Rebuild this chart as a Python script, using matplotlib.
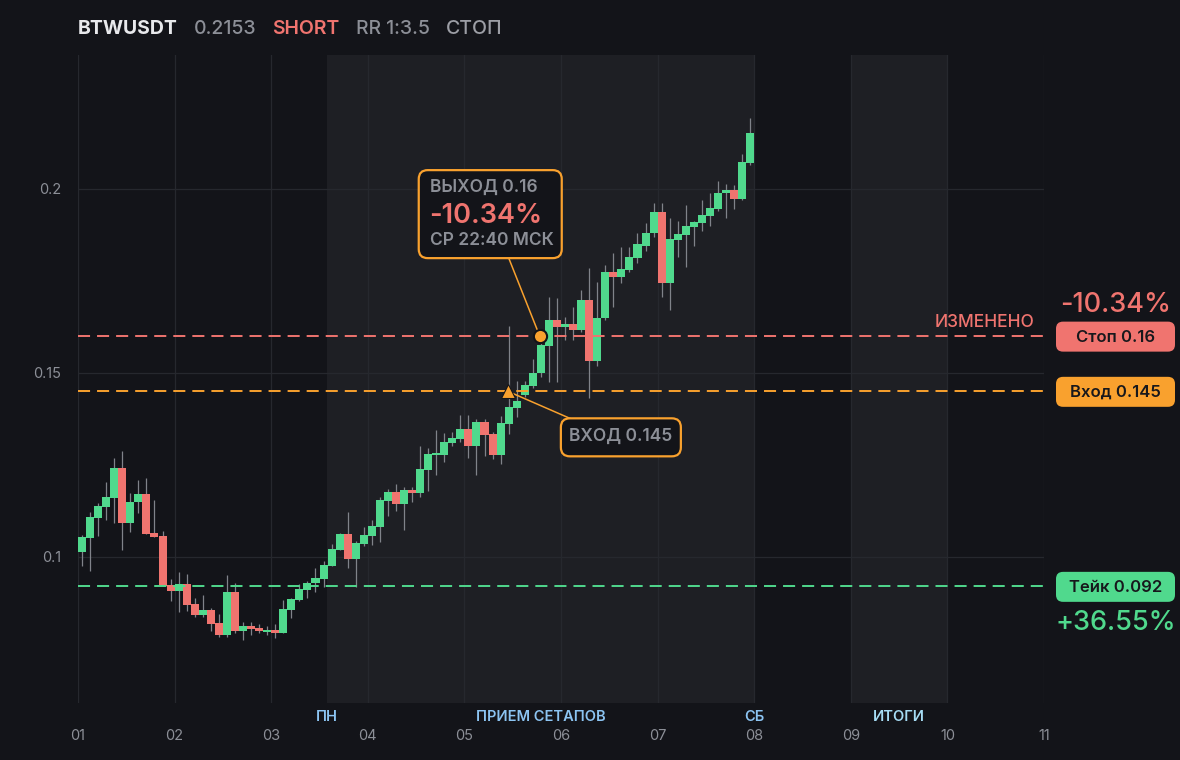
import matplotlib
matplotlib.use('Agg')
import matplotlib.pyplot as plt
import matplotlib.patches as mpatches
import matplotlib.transforms as mtransforms

plt.rcParams['font.family'] = ['Inter', 'DejaVu Sans']

# header
symbol = 'BTWUSDT'
last_price = '0.2153'
side = 'SHORT'
rr_text = 'RR 1:3.5'
status = 'СТОП'

# 2-hour candles, first one opens on day 01 00:00
opens = [0.1014, 0.1052, 0.1107, 0.1137, 0.1161, 0.1242, 0.1091, 0.1148, 0.1171, 0.1065,
         0.1057, 0.0924, 0.0908, 0.0927, 0.0872, 0.0843, 0.0856, 0.0821, 0.0789, 0.0905,
         0.0800, 0.0811, 0.0808, 0.0797, 0.0802, 0.0794, 0.0857, 0.0884, 0.0911, 0.0928,
         0.0941, 0.0976, 0.1020, 0.1063, 0.0993, 0.1035, 0.1057, 0.1082, 0.1152, 0.1177,
         0.1144, 0.1182, 0.1174, 0.1237, 0.1277, 0.1277, 0.1310, 0.1321, 0.1348, 0.1302,
         0.1367, 0.1334, 0.1277, 0.1361, 0.1405, 0.1440, 0.1465, 0.1499, 0.1574, 0.1644,
         0.1624, 0.1633, 0.1617, 0.1698, 0.1533, 0.1650, 0.1773, 0.1762, 0.1780, 0.1813,
         0.1846, 0.1879, 0.1938, 0.1745, 0.1861, 0.1875, 0.1897, 0.1908, 0.1927, 0.1946,
         0.1989, 0.1997, 0.1973, 0.2071]
highs = [0.1060, 0.1122, 0.1146, 0.1204, 0.1269, 0.1288, 0.1174, 0.1209, 0.1215, 0.1155,
         0.1071, 0.0940, 0.0959, 0.0954, 0.0889, 0.0897, 0.0861, 0.0846, 0.0951, 0.0929,
         0.0824, 0.0822, 0.0819, 0.0813, 0.0819, 0.0883, 0.0889, 0.0927, 0.0935, 0.0970,
         0.0990, 0.1035, 0.1065, 0.1122, 0.1043, 0.1082, 0.1101, 0.1163, 0.1185, 0.1198,
         0.1190, 0.1190, 0.1302, 0.1296, 0.1345, 0.1337, 0.1340, 0.1386, 0.1386, 0.1375,
         0.1375, 0.1340, 0.1383, 0.1628, 0.1478, 0.1478, 0.1537, 0.1590, 0.1707, 0.1703,
         0.1653, 0.1680, 0.1726, 0.1785, 0.1748, 0.1794, 0.1825, 0.1843, 0.1843, 0.1880,
         0.1907, 0.1961, 0.1961, 0.1920, 0.1913, 0.1957, 0.1913, 0.1970, 0.1989, 0.2022,
         0.2014, 0.2011, 0.2095, 0.2193]
lows = [0.0976, 0.0963, 0.1058, 0.1100, 0.1091, 0.1020, 0.1068, 0.1120, 0.1063, 0.1055,
        0.0922, 0.0879, 0.0851, 0.0854, 0.0838, 0.0838, 0.0800, 0.0783, 0.0783, 0.0792,
        0.0775, 0.0789, 0.0794, 0.0789, 0.0781, 0.0794, 0.0835, 0.0879, 0.0887, 0.0906,
        0.0917, 0.0974, 0.1020, 0.0971, 0.0917, 0.1030, 0.1033, 0.1041, 0.1111, 0.1125,
        0.1073, 0.1149, 0.1163, 0.1179, 0.1223, 0.1258, 0.1302, 0.1313, 0.1269, 0.1223,
        0.1275, 0.1266, 0.1253, 0.1334, 0.1380, 0.1435, 0.1460, 0.1490, 0.1476, 0.1474,
        0.1590, 0.1590, 0.1610, 0.1431, 0.1520, 0.1645, 0.1680, 0.1744, 0.1775, 0.1800,
        0.1830, 0.1870, 0.1707, 0.1671, 0.1816, 0.1789, 0.1846, 0.1887, 0.1900, 0.1940,
        0.1921, 0.1946, 0.1970, 0.2065]
closes = [0.1054, 0.1109, 0.1139, 0.1163, 0.1242, 0.1091, 0.1150, 0.1171, 0.1063, 0.1055,
          0.0922, 0.0908, 0.0927, 0.0870, 0.0843, 0.0856, 0.0819, 0.0789, 0.0905, 0.0800,
          0.0811, 0.0805, 0.0800, 0.0802, 0.0794, 0.0859, 0.0886, 0.0913, 0.0929, 0.0943,
          0.0979, 0.1022, 0.1063, 0.0993, 0.1038, 0.1060, 0.1084, 0.1155, 0.1177, 0.1144,
          0.1182, 0.1174, 0.1239, 0.1280, 0.1282, 0.1313, 0.1323, 0.1348, 0.1302, 0.1367,
          0.1332, 0.1277, 0.1364, 0.1408, 0.1424, 0.1467, 0.1499, 0.1576, 0.1644, 0.1624,
          0.1633, 0.1617, 0.1698, 0.1533, 0.1650, 0.1773, 0.1762, 0.1782, 0.1816, 0.1850,
          0.1881, 0.1938, 0.1745, 0.1863, 0.1878, 0.1900, 0.1910, 0.1929, 0.1948, 0.1989,
          0.1997, 0.1973, 0.2073, 0.2153]
first_day = 1
candles_per_day = 12

# trade
entry_price = 0.145
stop_price = 0.16
take_price = 0.092
entry_day = 5.45
exit_day = 5.78
exit_pnl = '-10.34%'
take_pnl = '+36.55%'
exit_time = 'СР 22:40 МСК'

# axes
day_ticks = list(range(1, 12))
day_labels = ['%02d' % d for d in day_ticks]
y_ticks = [0.1, 0.15, 0.2]
y_labels = ['0.1', '0.15', '0.2']
y_range = (0.0603, 0.2364)
session_bands = [(3.58, 8.0), (9.0, 10.0)]
session_labels = [(3.58, 'ПН'), (5.79, 'ПРИЕМ СЕТАПОВ'), (8.0, 'СБ'), (9.5, 'ИТОГИ')]
session_colors = ['#8cc4f2', '#8cc4f2', '#8cc4f2', '#a6dcf4']

BG = '#131419'
BAND = '#1e1f24'
GRID = '#26282e'
GREEN = '#50d98d'
RED = '#f0746f'
ORANGE = '#f9a12e'
GRAY = '#8c8f97'
WICK = '#80838a'

fig = plt.figure(figsize=(11.8, 7.6), dpi=100, facecolor=BG)
ax = fig.add_axes([78 / 1180, 57 / 760, 966 / 1180, 648 / 760])
ax.set_facecolor(BG)
for s in ax.spines.values():
    s.set_visible(False)

ax.set_xlim(day_ticks[0], day_ticks[-1])
ax.set_ylim(*y_range)
ax.set_xticks(day_ticks)
ax.set_xticklabels(day_labels)
ax.set_yticks(y_ticks)
ax.set_yticklabels(y_labels)
ax.tick_params(axis='x', length=0, pad=19, labelsize=10.5, labelcolor=GRAY)
ax.tick_params(axis='y', length=0, pad=12, labelsize=10.5, labelcolor=GRAY)
ax.set_axisbelow(True)
ax.grid(True, color=GRID, lw=0.9)

for x0, x1 in session_bands:
    ax.axvspan(x0, x1, color=BAND, zorder=0, lw=0)

# candles
xs = [first_day + (i + 0.5) / candles_per_day for i in range(len(opens))]
cols = [GREEN if c >= o else RED for o, c in zip(opens, closes)]
ax.vlines(xs, lows, highs, color=WICK, lw=0.9, zorder=2)
bottoms = [min(o, c) for o, c in zip(opens, closes)]
heights = [max(abs(c - o), 0.0005) for o, c in zip(opens, closes)]
ax.bar(xs, heights, bottom=bottoms, width=1 / candles_per_day, color=cols, lw=0, zorder=3)

# levels
for price, col in [(stop_price, RED), (entry_price, ORANGE), (take_price, GREEN)]:
    ax.axhline(price, color=col, lw=1.4, ls=(0, (6.2, 3.6)), zorder=4)

# overlays in pixel space
PX = mtransforms.IdentityTransform()


def to_px(x, y):
    return ax.transData.transform((x, y))


def rbox(x0, y0, w, h, fc, ec='none', lw=0, r=7, z=6):
    p = mpatches.FancyBboxPatch((x0, y0), w, h, boxstyle='round,pad=0,rounding_size=%s' % r,
                                fc=fc, ec=ec, lw=lw, transform=PX, clip_on=False, zorder=z)
    ax.add_patch(p)


def ptext(x, y, s, **kw):
    kw.setdefault('zorder', 7)
    return ax.text(x, y, s, transform=PX, clip_on=False, **kw)


ex, ey = to_px(exit_day, stop_price)
tx, ty = to_px(entry_day, entry_price)

# exit callout
ax.plot([ex - 31, ex], [ey + 78, ey], color=ORANGE, lw=1.1, transform=PX, zorder=5)
rbox(ex - 121, ey + 78, 143, 88, BG, ORANGE, 1.6, r=9)
ptext(ex - 110, ey + 149, 'ВЫХОД %s' % stop_price, color=GRAY, fontsize=12.5,
      fontweight=600, va='center', ha='left')
ptext(ex - 111, ey + 120.5, exit_pnl, color=RED, fontsize=19.5, fontweight=600,
      va='center', ha='left')
ptext(ex - 110, ey + 96, exit_time, color=GRAY, fontsize=12.5, fontweight=600,
      va='center', ha='left')
ax.plot(exit_day, stop_price, 'o', ms=9.5, mfc=ORANGE, mec=BG, mew=1.5, zorder=8)

# entry callout
ax.plot([tx, tx + 62], [ty, ty - 27], color=ORANGE, lw=1.1, transform=PX, zorder=5)
rbox(tx + 53, ty - 65, 120, 38, BG, ORANGE, 1.6, r=9)
ptext(tx + 113, ty - 45.5, 'ВХОД %s' % entry_price, color=GRAY, fontsize=12.5,
      fontweight=600, va='center', ha='center')
ax.plot(entry_day, entry_price, '^', ms=10, mfc=ORANGE, mec=BG, mew=0.8, zorder=8)

# right-side badges
_, sy = to_px(0, stop_price)
_, ny = to_px(0, entry_price)
_, ky = to_px(0, take_price)
for yy, label, col in [(sy, 'Стоп %s' % stop_price, RED),
                       (ny, 'Вход %s' % entry_price, ORANGE),
                       (ky, 'Тейк %s' % take_price, GREEN)]:
    rbox(1056, yy - 15.5, 119, 30, col, r=7)
    ptext(1115.5, yy - 1, label, color='#17181c', fontsize=12, fontweight=600,
          ha='center', va='center')
ptext(1115.5, sy + 31, exit_pnl, color=RED, fontsize=19.5, fontweight=500,
      ha='center', va='center')
ptext(1115.5, ky - 37, take_pnl, color=GREEN, fontsize=19.5, fontweight=500,
      ha='center', va='center')
ptext(1035, sy + 14, 'ИЗМЕНЕНО', color=RED, fontsize=12.5, fontweight=500,
      ha='right', va='center')

# session labels under the axis
for (x, label), col in zip(session_labels, session_colors):
    ax.text(x, -0.0216, label, transform=ax.get_xaxis_transform(), ha='center', va='center',
            fontsize=10.5, fontweight=600, color=col, clip_on=False)

# header
renderer = fig.canvas.get_renderer()
hx = 78
for s, col, w in [(symbol, '#e8e9ec', 700), (last_price, GRAY, 500),
                  (side, RED, 600), (rr_text, GRAY, 500), (status, '#9c9ea5', 500)]:
    t = fig.text(hx, 731, s, transform=PX, color=col, fontsize=14, fontweight=w,
                 va='center', ha='left')
    bb = t.get_window_extent(renderer)
    hx = bb.x1 + 16

fig.savefig('out.png', dpi=100, facecolor=BG)
